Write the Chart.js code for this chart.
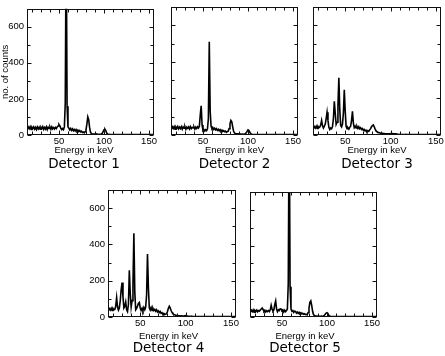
<!DOCTYPE html>
<html>
<head>
<meta charset="utf-8">
<script src="https://cdn.jsdelivr.net/npm/chart.js@4.4.1/dist/chart.umd.min.js"></script>
<style>
  html, body { margin: 0; padding: 0; background: #fff; }
  #wrap { position: relative; width: 445px; height: 356px; overflow: hidden; }
  canvas { position: absolute; }
</style>
</head>
<body>
<div id="wrap">
  <canvas id="c1"></canvas>
  <canvas id="c2"></canvas>
  <canvas id="c3"></canvas>
  <canvas id="c4"></canvas>
  <canvas id="c5"></canvas>
</div>
<script>
// ---------- data ----------
const energy = [
  15,16,17,18,19,20,21,22,23,24,
  25,26,27,28,29,30,31,32,33,34,
  35,36,37,38,39,40,41,42,43,44,
  45,46,47,48,49,50,51,52,53,54,
  55,56,57,58,59,60,61,62,63,64,
  65,66,67,68,69,70,71,72,73,74,
  75,76,77,78,79,80,81,82,83,84,
  85,86,87,88,89,90,91,92,93,94,
  95,96,97,98,99,100,101,102,103,104,
  105,106,107,108,109,110,111,112,113,114,
  115,116,117,118,119,120,121,122,123,124,
  125,126,127,128,129,130,131,132,133,134,
  135,136,137,138,139,140,141,142,143,144,
  145,146,147,148,149,150,151,152,153,154,
  155
];

const detector1 = [
  32,44,35,46,31,43,36,45,33,42,
  30,45,34,44,32,43,35,46,31,42,
  33,45,30,43,36,44,32,45,34,41,
  33,42,36,45,50,58,50,38,30,36,
  30,45,180,1150,160,45,38,28,36,26,
  34,24,31,22,30,21,27,19,25,17,
  21,14,17,12,18,30,60,100,85,42,
  16,8,5,4,6,3,5,6,3,4,
  4,3,5,9,19,29,32,24,11,5,
  3,4,2,3,3,2,3,2,3,2,
  2,3,2,2,3,2,2,3,2,2,
  2,2,3,2,2,2,3,2,2,2,
  2,2,2,3,2,2,2,2,3,2,
  2,2,2,2,2,3,2,2,2,2,
  2
];

const detector2 = [
  33,45,36,46,32,44,37,47,34,43,
  35,46,32,44,37,45,31,43,36,44,
  33,46,35,42,38,44,32,43,36,45,
  38,48,110,160,55,24,30,22,29,24,
  34,90,510,130,48,35,40,30,37,28,
  34,25,31,23,29,21,27,19,24,18,
  21,15,19,20,35,62,80,72,45,20,
  11,8,7,6,7,5,6,5,4,5,
  4,5,7,12,20,28,25,15,7,4,
  3,2,3,3,2,3,2,2,3,2,
  2,2,3,2,2,2,2,3,2,2,
  2,3,2,2,2,2,3,2,2,2,
  2,2,2,2,3,2,2,2,2,2,
  3,2,2,2,2,2,2,3,2,2,
  2
];

const detector3 = [
  36,46,38,48,36,47,40,44,55,80,
  50,38,48,60,90,125,80,42,30,38,
  34,46,90,184,120,58,70,160,313,140,
  52,44,60,120,247,130,48,34,40,32,
  42,48,80,130,65,40,48,38,47,36,
  45,34,40,30,35,26,30,22,26,18,
  24,20,28,35,45,52,55,45,32,22,
  18,15,13,12,10,9,9,8,8,7,
  7,6,7,6,7,8,7,8,7,6,
  6,7,5,4,4,3,4,3,3,2,
  3,2,3,2,2,3,2,2,3,2,
  2,2,3,2,2,2,2,3,2,2,
  2,3,2,2,2,2,2,2,3,2,
  2,2,2,3,2,2,2,2,2,3,
  2
];

const detector4 = [
  36,46,38,48,36,47,40,42,60,107,
  55,38,50,90,150,190,110,50,60,83,
  40,30,70,258,130,55,90,180,461,140,
  40,48,60,75,80,50,36,48,34,52,
  40,55,120,347,160,50,38,52,36,48,
  36,42,32,40,28,34,24,30,20,24,
  16,20,13,17,18,30,48,59,50,36,
  25,18,14,12,10,8,8,7,6,6,
  5,6,5,6,7,8,7,5,4,4,
  4,3,4,3,3,2,3,2,3,2,
  2,3,2,2,2,3,2,2,2,3,
  2,2,2,3,2,2,2,2,3,2,
  2,2,3,2,2,2,2,3,2,2,
  2,2,2,2,3,2,2,2,2,2,
  2
];

const detector5 = [
  28,38,30,40,27,37,31,39,29,36,
  33,40,45,50,42,32,38,28,35,30,
  36,30,40,66,45,33,40,70,90,45,
  30,40,36,46,45,36,40,28,38,30,
  36,45,190,1200,170,45,32,36,26,33,
  31,22,28,20,26,19,24,17,21,15,
  18,13,15,12,25,50,82,90,65,32,
  14,8,6,5,5,4,5,4,4,5,
  4,6,9,15,22,24,18,9,5,3,
  3,2,3,2,2,3,2,2,2,3,
  2,2,3,2,2,2,3,2,2,2,
  2,3,2,2,2,2,2,3,2,2,
  2,2,2,3,2,2,2,2,2,3,
  2,2,3,2,2,2,2,2,3,2,
  2
];

const xTickLabels = [50, 100, 150];
const yTickLabels = [0, 200, 400, 600];
const xMinorStep = 10;
const yMinorStep = 100;
const titles = ['Detector 1', 'Detector 2', 'Detector 3', 'Detector 4', 'Detector 5'];
const xTitle = 'Energy in keV';
const yTitle = 'no. of counts';

// ---------- drawing ----------
const frameTicks = {
  id: 'frameTicks',
  afterDatasetsDraw(chart) {
    const { ctx, chartArea: a, scales: { x, y } } = chart;
    ctx.save();
    ctx.strokeStyle = '#111';
    ctx.lineWidth = 1;
    const L = Math.round(a.left) + 0.5, R = Math.round(a.right) - 0.5;
    const T = Math.round(a.top) + 0.5, B = Math.round(a.bottom) - 0.5;
    ctx.strokeRect(L, T, R - L, B - T);
    ctx.beginPath();
    x.ticks.forEach(t => {
      if (t.value % xMinorStep !== 0) return;
      const px = Math.round(x.getPixelForValue(t.value)) + 0.5;
      const len = xTickLabels.includes(t.value) ? 4 : 3;
      ctx.moveTo(px, B); ctx.lineTo(px, B - len);
      ctx.moveTo(px, T); ctx.lineTo(px, T + len);
    });
    y.ticks.forEach(t => {
      if (t.value % yMinorStep !== 0) return;
      const py = Math.round(y.getPixelForValue(t.value)) + 0.5;
      const len = yTickLabels.includes(t.value) ? 4 : 3;
      ctx.moveTo(L, py); ctx.lineTo(L + len, py);
      ctx.moveTo(R, py); ctx.lineTo(R - len, py);
    });
    ctx.stroke();
    ctx.restore();
  }
};

const tickFont = { family: 'Liberation Sans', size: 9.5 };

function makePanel(id, counts, p) {
  const cv = document.getElementById(id);
  cv.width = p.w; cv.height = p.h;
  cv.style.left = p.left + 'px'; cv.style.top = p.top + 'px';
  cv.style.width = p.w + 'px'; cv.style.height = p.h + 'px';
  return new Chart(cv, {
    type: 'line',
    data: {
      datasets: [{
        data: energy.map((e, i) => ({ x: e, y: counts[i] })),
        borderColor: '#000',
        borderWidth: 1.6,
        pointRadius: 0,
        tension: 0,
        fill: false
      }]
    },
    options: {
      responsive: false,
      animation: false,
      devicePixelRatio: 1,
      events: [],
      layout: { padding: { left: p.padL, right: p.padR, top: p.padT, bottom: 0 } },
      plugins: {
        legend: { display: false },
        tooltip: { enabled: false },
        title: {
          display: true, position: 'bottom', text: p.title, color: '#000',
          font: { family: 'DejaVu Sans', size: 13.5, weight: 'normal', lineHeight: 1 },
          padding: { top: 0, bottom: p.titlePadB }
        },
        subtitle: {
          display: true, position: 'bottom', text: xTitle, color: '#000',
          font: { family: 'Liberation Sans', size: 9.5, weight: 'normal', lineHeight: 1 },
          padding: { top: 0, bottom: p.subPadB }
        }
      },
      scales: {
        x: {
          type: 'linear', min: 14.5, max: 155.5,
          grid: { display: false, drawTicks: false },
          border: { display: false },
          ticks: {
            stepSize: xMinorStep, autoSkip: false, maxRotation: 0, padding: 1,
            includeBounds: false,
            color: '#000', font: tickFont,
            callback: v => xTickLabels.includes(v) ? String(v) : ''
          },
          afterFit: s => { s.height = p.xH; }
        },
        y: {
          type: 'linear', min: 0, max: 700,
          grid: { display: false, drawTicks: false },
          border: { display: false },
          ticks: {
            display: p.showY, stepSize: yMinorStep, autoSkip: false, padding: 3,
            color: '#000', font: tickFont,
            callback: v => yTickLabels.includes(v) ? String(v) : ''
          },
          title: {
            display: !!p.yTitle, text: p.yTitle || '', color: '#000',
            font: { family: 'Liberation Sans', size: 9.5, lineHeight: 1.2 },
            padding: { top: 0, bottom: 0 }
          },
          afterFit: s => { s.width = p.yW; }
        },
        yR: {
          type: 'linear', position: 'right', min: 0, max: 700,
          grid: { display: false, drawTicks: false },
          border: { display: false },
          ticks: { display: false },
          afterFit: s => { s.width = p.yRW; }
        }
      }
    },
    plugins: [frameTicks]
  });
}

const topRow = { top: 0, h: 175, padT: 7, xH: 11, subPadB: 2.5, titlePadB: 3.5 };
const botRow = { top: 175, h: 181, padT: 15, xH: 15, subPadB: 0, titlePadB: 1 };

makePanel('c1', detector1, Object.assign({}, topRow, { left: 0, w: 170, padL: 0, padR: 2, yW: 27, yRW: 14, showY: true, yTitle: yTitle, title: titles[0] }));
makePanel('c2', detector2, Object.assign({}, topRow, { left: 165, w: 140, padL: 6, padR: 7, yW: 0, yRW: 0, showY: false, title: titles[1] }));
makePanel('c3', detector3, Object.assign({}, topRow, { left: 305, w: 140, padL: 8, padR: 4, yW: 0, yRW: 0, showY: false, title: titles[2] }));
makePanel('c4', detector4, Object.assign({}, botRow, { left: 78, w: 180, padL: 3, padR: 2, yW: 27, yRW: 20, showY: true, title: titles[3] }));
makePanel('c5', detector5, Object.assign({}, botRow, { left: 228, w: 155, padL: 5, padR: 6, yW: 17, yRW: 0, showY: false, padT: 17, title: titles[4] }));
</script>
</body>
</html>
